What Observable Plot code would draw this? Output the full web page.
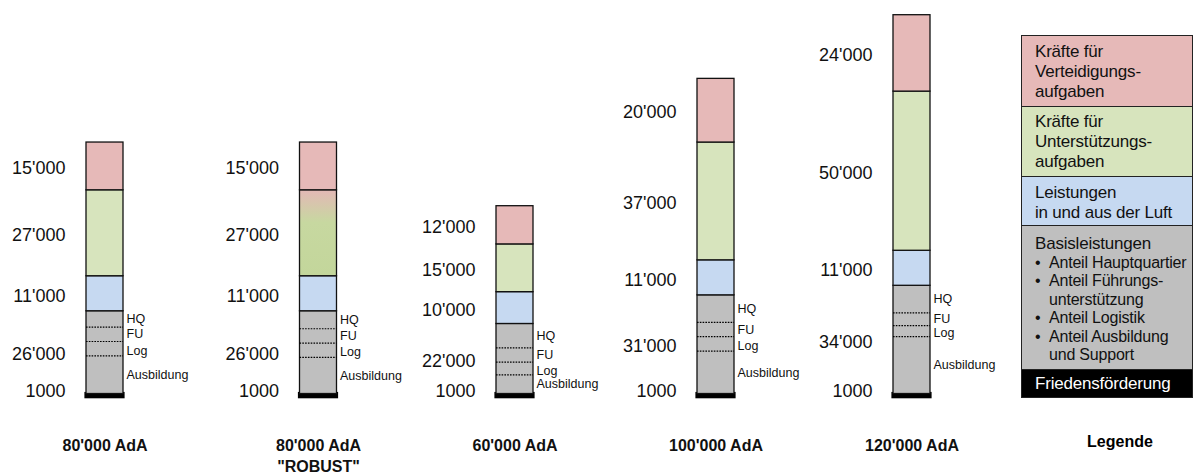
<!DOCTYPE html>
<html><head><meta charset="utf-8">
<script src="https://cdn.jsdelivr.net/npm/d3@7"></script>
<script src="https://cdn.jsdelivr.net/npm/@observablehq/plot@0.6"></script>
<style>
body{margin:0;background:#fff;font-family:"Liberation Sans",Arial,sans-serif;}
#wrap{position:relative;width:1195px;height:474px;overflow:hidden;}
#legend{position:absolute;left:1021px;top:35px;width:174px;height:363px;}
.sec{position:absolute;left:0;width:172px;border:1px solid #222;padding-left:13px;box-sizing:border-box;color:#111;}
.hd{font-size:17px;line-height:20px;letter-spacing:-0.2px;}
.bl{font-size:16px;line-height:18.6px;letter-spacing:-0.2px;white-space:nowrap;}
.bl span{display:inline-block;width:14px;}
#legTitle{position:absolute;left:1080px;width:80px;top:433px;text-align:center;font-weight:bold;font-size:16px;}
</style>
</head><body><div id="wrap"></div>
<script>
// ---- data ----
const categories = ["80'000 AdA", "80'000 AdA\n\"ROBUST\"", "60'000 AdA", "100'000 AdA", "120'000 AdA"];
const peace     = [1000, 1000, 1000, 1000, 1000];
const basis     = [26000, 26000, 22000, 31000, 34000];
const air       = [11000, 11000, 10000, 11000, 11000];
const support   = [27000, 27000, 15000, 37000, 50000];
const defence   = [15000, 15000, 12000, 20000, 24000];
// shares inside the Basisleistungen block
const hq         = [5000, 5500, 7500, 8500, 8500];
const fu         = [4500, 4500, 4500, 4500, 4000];
const logistik   = [4500, 4500, 4000, 4500, 3500];
const ausbildung = [12000, 11500, 6000, 13500, 18000];
const subNames = ["Ausbildung", "Log", "FU", "HQ"];
const segColors = ["#000000", "#bfbfbf", "#c6d9f1", "#d7e4bd", "#e6b9b8"];
const legendLabels = [
  ["Kräfte für", "Verteidigungs-", "aufgaben"],
  ["Kräfte für", "Unterstützungs-", "aufgaben"],
  ["Leistungen", "in und aus der Luft"],
  ["Basisleistungen"],
  ["Friedensförderung"]
];
const legendBullets = [["Anteil Hauptquartier"], ["Anteil Führungs-", "unterstützung"], ["Anteil Logistik"], ["Anteil Ausbildung", "und Support"]];
const legendColors = ["#e6b9b8", "#d7e4bd", "#c6d9f1", "#bfbfbf", "#000000"];

// ---- layout ----
const barCentres = [104.5, 318, 514.5, 715.5, 911.5];
const half = 18.5;

const series = [peace, basis, air, support, defence];
const rows = [];
categories.forEach((c, i) => {
  let acc = 0;
  series.forEach((s, k) => {
    rows.push({i, k, y1: acc, y2: acc + s[i], value: s[i],
      color: (i === 1 && k === 3) ? "url(#robustGrad)" : segColors[k]});
    acc += s[i];
  });
});
const subs = [ausbildung, logistik, fu, hq];
const subRows = [], lines = [];
categories.forEach((c, i) => {
  let acc = peace[i];
  subs.forEach((s, k) => {
    subRows.push({i, k, name: subNames[k], y1: acc, y2: acc + s[i]});
    acc += s[i];
    if (k < 3) lines.push({i, y: acc});
  });
});
const loc = d3.formatLocale({decimal: ".", thousands: "'", grouping: [3], currency: ["", ""]});
const fmt = v => v < 10000 ? String(v) : loc.format(",")(v);

const plot = Plot.plot({
  width: 1195, height: 474,
  marginTop: 14.7, marginBottom: 77.3, marginLeft: 0, marginRight: 0,
  style: {fontFamily: "'Liberation Sans', Arial, sans-serif", background: "transparent"},
  x: {type: "linear", domain: [0, 1, 2, 3, 4], range: barCentres, axis: null},
  y: {domain: [0, 120000], axis: null},
  color: {type: "identity"},
  marks: [
    Plot.rect(rows.filter(d => d.k === 0), {x1: "i", x2: "i", y1: "y1", y2: "y2", fill: "color", stroke: "#000", strokeWidth: 3.2, insetLeft: -half, insetRight: -half}),
    Plot.rect(rows.filter(d => d.k > 0), {x1: "i", x2: "i", y1: "y1", y2: "y2", fill: "color", stroke: "#111", strokeWidth: 1.3, insetLeft: -half, insetRight: -half}),
    Plot.ruleY(lines, {y: "y", x1: "i", x2: "i", insetLeft: -half, insetRight: -half, stroke: "#000", strokeWidth: 1.2, strokeDasharray: "1.6,1.2"}),
    Plot.text(rows.filter(d => d.k > 0), {x: "i", y: d => (d.y1 + d.y2) / 2, text: d => fmt(d.value), textAnchor: "end", dx: -39.5, dy: 2, fontSize: 18, fill: "#111"}),
    Plot.text(rows.filter(d => d.k === 0), {x: "i", y: d => (d.y1 + d.y2) / 2, text: d => fmt(d.value), textAnchor: "end", dx: -39.5, dy: -4.5, fontSize: 18, fill: "#111"}),
    Plot.text(subRows.filter(d => d.k !== 1), {x: "i", y: d => (d.y1 + d.y2) / 2, text: "name", textAnchor: "start", dx: half + 3, fontSize: 12.5, fill: "#111"}),
    Plot.text(subRows.filter(d => d.k === 1), {x: "i", y: d => (d.y1 + d.y2) / 2, text: "name", textAnchor: "start", dx: half + 3, dy: 2, fontSize: 12.5, fill: "#111"}),
    Plot.text(categories, {x: (d, i) => i, frameAnchor: "bottom", lineAnchor: "top", dy: 39, fontSize: 16, fontWeight: "bold", lineHeight: 1.3, fill: "#111"})
  ]
});

const svg = d3.select(plot);
const defs = svg.insert("defs", ":first-child");
const g = defs.append("linearGradient").attr("id", "robustGrad").attr("x1", 0).attr("y1", 0).attr("x2", 0).attr("y2", 1);
g.append("stop").attr("offset", "0%").attr("stop-color", "#e3b8b6");
g.append("stop").attr("offset", "38%").attr("stop-color", "#c7d8a0");
g.append("stop").attr("offset", "100%").attr("stop-color", "#c3d69b");

const wrap = document.getElementById("wrap");
wrap.appendChild(plot);

// ---- legend ----
const legend = document.createElement("div");
legend.id = "legend";
const tops = [0, 71, 141, 189.5, 334];
const heights = [72, 71, 49.5, 145.5, 29];
const pads = [6, 5, 6, 8, 0];
legendLabels.forEach((lab, k) => {
  const d = document.createElement("div");
  d.className = "sec";
  d.style.top = tops[k] + "px";
  d.style.height = heights[k] + "px";
  d.style.background = legendColors[k];
  d.style.paddingTop = pads[k] + "px";
  let html = "";
  if (k === 4) {
    d.style.color = "#fff";
    html = `<div class="hd" style="line-height:27px">${lab[0]}</div>`;
  } else {
    html = lab.map(t => `<div class="hd">${t}</div>`).join("");
    if (k === 3) {
      html += legendBullets.map(b => b.map((t, j) => `<div class="bl"><span>${j === 0 ? "•" : ""}</span>${t}</div>`).join("")).join("");
    }
  }
  d.innerHTML = html;
  legend.appendChild(d);
});
wrap.appendChild(legend);
const lt = document.createElement("div");
lt.id = "legTitle";
lt.textContent = "Legende";
wrap.appendChild(lt);
</script>
</body></html>
